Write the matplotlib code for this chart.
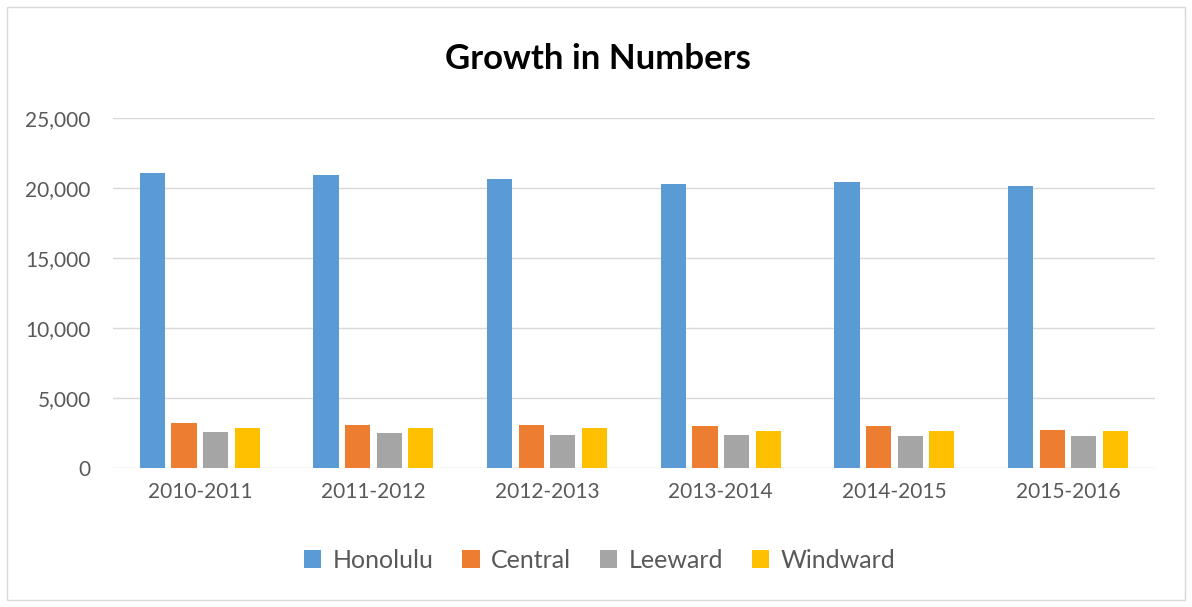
import numpy as np
import matplotlib
matplotlib.use("Agg")
import matplotlib.pyplot as plt
from matplotlib.patches import Rectangle

plt.rcParams['font.family'] = ['Lato', 'DejaVu Sans']

# data
years = ["2010-2011", "2011-2012", "2012-2013", "2013-2014", "2014-2015", "2015-2016"]
honolulu = [21050, 20900, 20600, 20300, 20420, 20100]
central = [3200, 3100, 3050, 3020, 2970, 2700]
leeward = [2600, 2520, 2330, 2330, 2290, 2290]
windward = [2880, 2880, 2830, 2620, 2620, 2620]

series = [("Honolulu", honolulu, "#5B9BD5"),
          ("Central", central, "#ED7D31"),
          ("Leeward", leeward, "#A5A5A5"),
          ("Windward", windward, "#FFC000")]

fig = plt.figure(figsize=(11.92, 6.07), dpi=100)
ax = fig.add_axes([0.0948, 0.229, 0.874, 0.577])

x = np.arange(len(years))
width = 0.145
step = 0.182
for i, (name, vals, color) in enumerate(series):
    ax.bar(x + (i - 1.5) * step, vals, width, color=color, label=name, zorder=3)

ax.set_xlim(-0.5, len(years) - 0.5)
ax.set_ylim(0, 25000)
ax.set_yticks(range(0, 25001, 5000))
ax.yaxis.set_major_formatter(matplotlib.ticker.FuncFormatter(lambda v, p: f"{int(v):,}"))
ax.set_xticks(x)
ax.set_xticklabels(years)
ax.tick_params(axis='both', length=0, labelsize=15, colors="#595959")
ax.tick_params(axis='y', pad=16)
ax.tick_params(axis='x', pad=10)
ax.grid(axis='y', color="#D9D9D9", linewidth=1, zorder=0)
for s in ax.spines.values():
    s.set_visible(False)

fig.text(0.502, 0.903, "Growth in Numbers", ha="center", va="center",
         fontsize=25, fontweight="bold", color="black")

leg = fig.legend(loc="center", bbox_to_anchor=(0.503, 0.077), ncol=4, frameon=False,
                 fontsize=18, handlelength=0.7, handleheight=0.7,
                 handletextpad=0.45, columnspacing=1.15, labelcolor="#595959")

fig.patches.append(Rectangle((0.006, 0.012), 0.988, 0.976, transform=fig.transFigure,
                             fill=False, edgecolor="#D9D9D9", linewidth=1))

fig.savefig("out.png", dpi=100)
